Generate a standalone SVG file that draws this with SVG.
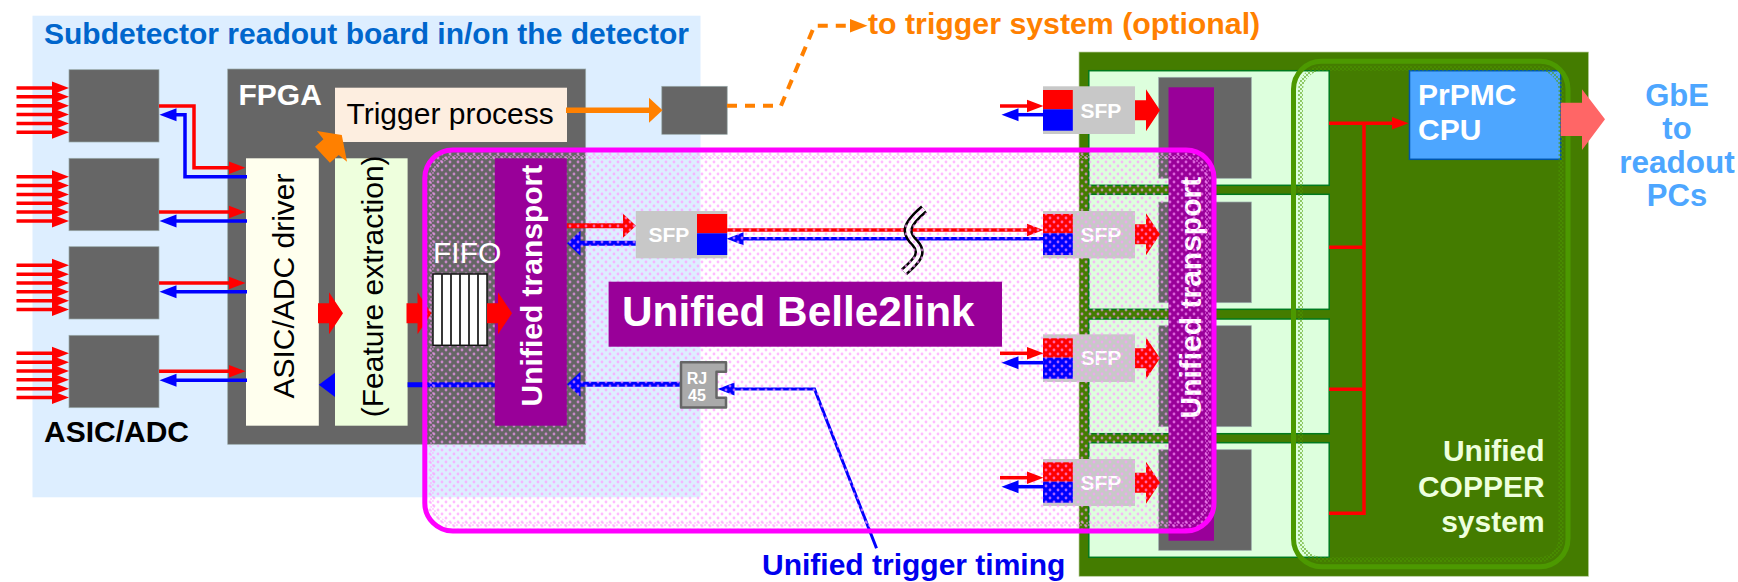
<svg xmlns="http://www.w3.org/2000/svg" xmlns:xlink="http://www.w3.org/1999/xlink" width="1738" height="582" viewBox="0 0 1738 582">
<style>
text{font-family:"Liberation Sans",Arial,sans-serif;font-size:30px}
.b{font-weight:bold}
.w{fill:#fff}
.m{text-anchor:middle}
.grey{fill:#666;stroke:#9aa;stroke-width:.7}
.sfp{fill:#c8c8c8}
.sfpt{font-weight:bold;font-size:21px;fill:#fff}
.card{fill:#ddffdd;stroke:#007a1e;stroke-width:1.5}
.purple{fill:#990099}
.r{stroke:#f00;fill:none}
.bl{stroke:#00f;fill:none}
.o{stroke:#ff8000;fill:none}
.s3{stroke-width:3.5}
.s5{stroke-width:5}
.fr{fill:#f00}
.fb{fill:#00f}
</style>
<defs>
<marker id="hr" markerUnits="userSpaceOnUse" markerWidth="18" markerHeight="16" refX="0.5" refY="8" orient="auto"><path d="M0 1.5L17 8L0 14.5Z" fill="#f00"/></marker>
<marker id="hb" markerUnits="userSpaceOnUse" markerWidth="18" markerHeight="16" refX="0.5" refY="8" orient="auto"><path d="M0 1.5L17 8L0 14.5Z" fill="#00f"/></marker>
<marker id="hrl" markerUnits="userSpaceOnUse" markerWidth="15" markerHeight="28" refX="0.5" refY="14" orient="auto"><path d="M0 1.500L13.500 14L0 26.500Z" fill="#f00"/></marker>
<marker id="hbl" markerUnits="userSpaceOnUse" markerWidth="15" markerHeight="28" refX="0.5" refY="14" orient="auto"><path d="M0 1.500L13.500 14L0 26.500Z" fill="#00f"/></marker>
<marker id="ho" markerUnits="userSpaceOnUse" markerWidth="15" markerHeight="28" refX="0.5" refY="14" orient="auto"><path d="M0 1.500L13.500 14L0 26.500Z" fill="#ff8000"/></marker>
<marker id="hos" markerUnits="userSpaceOnUse" markerWidth="19" markerHeight="16" refX="0.5" refY="8" orient="auto"><path d="M0 1L18 8L0 15Z" fill="#ff8000"/></marker>
<pattern id="dots" width="8" height="8" patternUnits="userSpaceOnUse"><circle cx="2" cy="2" r="1.400" fill="#ff99ff" fill-opacity=".65"/><circle cx="6" cy="6" r="1.400" fill="#ff99ff" fill-opacity=".65"/></pattern>
<pattern id="dense" width="4" height="4" patternUnits="userSpaceOnUse"><circle cx="1" cy="1" r=".9" fill="#ff99ff" fill-opacity=".6"/><circle cx="3" cy="3" r=".9" fill="#ff99ff" fill-opacity=".6"/></pattern>
<pattern id="gdense" width="4" height="4" patternUnits="userSpaceOnUse"><circle cx="1" cy="1" r=".9" fill="#4c9900" fill-opacity=".8"/><circle cx="3" cy="3" r=".9" fill="#4c9900" fill-opacity=".8"/></pattern>
<g id="in6">
<path class="r s3" d="M16.500 0H52.500" marker-end="url(#hr)"/>
<path class="r s3" d="M16.500 8.850H52.500" marker-end="url(#hr)"/>
<path class="r s3" d="M16.500 17.700H52.500" marker-end="url(#hr)"/>
<path class="r s3" d="M16.500 26.550H52.500" marker-end="url(#hr)"/>
<path class="r s3" d="M16.500 35.400H52.500" marker-end="url(#hr)"/>
<path class="r s3" d="M16.500 44.250H52.500" marker-end="url(#hr)"/>
</g>
<polygon id="bigr" points="0,-10 11,-10 11,-21 25,0 11,21 11,10 0,10"/>
</defs>

<g id="readout-board">
<rect x="32.500" y="15.700" width="668" height="481.600" fill="#ddeeff"/>
<text class="b" x="44" y="43.500" fill="#0066cc">Subdetector readout board in/on the detector</text>
</g>
<g id="asic-1"><rect class="grey" x="69" y="69.700" width="90" height="72.300"/></g>
<g id="asic-2"><rect class="grey" x="69" y="158.300" width="90" height="72.400"/></g>
<g id="asic-3"><rect class="grey" x="69" y="246.700" width="90" height="72.300"/></g>
<g id="asic-4"><rect class="grey" x="69" y="335.300" width="90" height="72.400"/>
<text class="b" x="44" y="442.300">ASIC/ADC</text></g>
<g id="fpga"><rect class="grey" x="227.700" y="69" width="358" height="375.300"/>
<text class="b w" x="238.500" y="105">FPGA</text></g>
<g id="trigger-process"><rect x="335" y="87.700" width="232" height="54.300" fill="#fdeee0"/>
<text x="346.500" y="124">Trigger process</text></g>
<g id="asic-driver"><rect x="246" y="158.300" width="72.800" height="267.400" fill="#ffffee"/>
<text class="m" transform="translate(293.500,286) rotate(-90)">ASIC/ADC driver</text></g>
<g id="feature-extraction"><rect x="335" y="158.300" width="72.600" height="267.400" fill="#eeffdd"/>
<text class="m" transform="translate(382.500,286.300) rotate(-90)">(Feature extraction)</text></g>
<g id="output-chip"><rect class="grey" x="661.800" y="86.300" width="65.400" height="48"/></g>

<g id="copper">
<rect x="1079" y="52" width="509.600" height="524.300" fill="#447c00" stroke="#bcd0a0" stroke-width=".7"/>
<text class="b" style="text-anchor:end" x="1544.600" y="461" fill="#eeffdd">Unified</text>
<text class="b" style="text-anchor:end" x="1544.600" y="497.300" fill="#eeffdd">COPPER</text>
<text class="b" style="text-anchor:end" x="1544.600" y="532.300" fill="#eeffdd">system</text>
</g>
<g id="card-1"><rect class="card" x="1088.800" y="70.700" width="240.400" height="114.600"/><rect class="grey" x="1158.700" y="77.300" width="92.600" height="101"/></g>
<g id="card-2"><rect class="card" x="1088.800" y="194.300" width="240.400" height="115"/><rect class="grey" x="1158.700" y="202" width="92.600" height="100.700"/></g>
<g id="card-3"><rect class="card" x="1088.800" y="319" width="240.400" height="114.700"/><rect class="grey" x="1158.700" y="325.700" width="92.600" height="101"/></g>
<g id="card-4"><rect class="card" x="1088.800" y="442.700" width="240.400" height="114.600"/><rect class="grey" x="1158.700" y="449.700" width="92.600" height="100.600"/></g>
<g id="copper-transport"><rect class="purple" x="1168.500" y="87.300" width="45.500" height="453.400"/>
<text class="b w m" transform="translate(1201,297.700) rotate(-90)">Unified transport</text></g>
<g id="cpu"><rect x="1409.500" y="70.700" width="151.200" height="88.600" fill="#4da6ff" stroke="#0055aa" stroke-width="1.500"/>
<text class="b w" x="1418" y="105">PrPMC</text><text class="b w" x="1418" y="140">CPU</text></g>
<g id="copper-outline">
<rect x="1300.500" y="68.300" width="260.500" height="491.400" rx="22" fill="none" stroke="url(#gdense)" stroke-width="5"/>
<rect x="1293.500" y="61.300" width="274.500" height="505.400" rx="28" fill="none" stroke="#4c9900" stroke-width="5"/>
</g>

<g id="sfp-r1"><rect class="sfp" x="1043" y="86.300" width="92" height="47.700"/><rect class="fr" x="1043" y="90" width="29.800" height="19.300"/><rect class="fb" x="1043" y="109.300" width="29.800" height="21.400"/><text class="sfpt" x="1080.500" y="118">SFP</text></g>
<g id="sfp-r2"><rect class="sfp" x="1043" y="211" width="92" height="47.300"/><rect class="fr" x="1043" y="214" width="29.800" height="19.300"/><rect class="fb" x="1043" y="233.300" width="29.800" height="21.700"/><text class="sfpt" x="1080.500" y="241.700">SFP</text></g>
<g id="sfp-r3"><rect class="sfp" x="1043" y="334.300" width="92" height="47.700"/><rect class="fr" x="1043" y="338.300" width="29.800" height="19.400"/><rect class="fb" x="1043" y="357.700" width="29.800" height="21"/><text class="sfpt" x="1080.500" y="365.300">SFP</text></g>
<g id="sfp-r4"><rect class="sfp" x="1043" y="459" width="92" height="47"/><rect class="fr" x="1043" y="462.300" width="29.800" height="19.400"/><rect class="fb" x="1043" y="481.700" width="29.800" height="21"/><text class="sfpt" x="1080.500" y="490">SFP</text></g>

<g id="connectors">
<use xlink:href="#in6" href="#in6" y="88"/>
<use xlink:href="#in6" href="#in6" y="176.700"/>
<use xlink:href="#in6" href="#in6" y="265.300"/>
<use xlink:href="#in6" href="#in6" y="353.300"/>
<path class="r s3" d="M159 106H194V167.700H229" marker-end="url(#hr)"/>
<path class="bl s3" d="M247 176.700H185V114.700H176" marker-end="url(#hb)"/>
<path class="r s3" d="M159 212H229" marker-end="url(#hr)"/>
<path class="bl s3" d="M247 221H176" marker-end="url(#hb)"/>
<path class="r s3" d="M159 283H229" marker-end="url(#hr)"/>
<path class="bl s3" d="M247 291.700H176" marker-end="url(#hb)"/>
<path class="r s3" d="M159 371.300H229" marker-end="url(#hr)"/>
<path class="bl s3" d="M247 380.300H176" marker-end="url(#hb)"/>
<use xlink:href="#bigr" href="#bigr" x="318" y="313.300" fill="#f00"/>
<use xlink:href="#bigr" href="#bigr" x="406.500" y="313.300" fill="#f00"/>
<path class="bl s5" d="M495 384.700H407.600"/>
<polygon class="fb" points="335,372.700 318.800,384.700 335,397"/>
<path class="o" stroke-width="5.500" d="M566 110.300H649.500" marker-end="url(#ho)"/>
<polygon fill="#ff8000" points="316.900,131 341.800,135 347,161.700 338.700,155 329.900,162.700 315,146.700 323.400,139.300"/>
<path class="o" stroke-width="4" stroke-dasharray="10 8" d="M727 105.700H781L814.500 25.700H850" marker-end="url(#hos)"/>
<path class="r s5" d="M566.800 225.700H623" marker-end="url(#hrl)"/>
<path class="bl s5" d="M635.800 243.300H580" marker-end="url(#hbl)"/>
<path class="r s3" d="M727 230H1027" marker-end="url(#hr)"/>
<path class="bl s3" d="M1043 238.700H743" marker-end="url(#hb)"/>
<path d="M924 209C904 226 905 233 915 243C925 254 915 262 904 272" fill="none" stroke="#000" stroke-width="9"/>
<path d="M924 209C904 226 905 233 915 243C925 254 915 262 904 272" fill="none" stroke="#fff" stroke-width="4"/>
<path class="r s3" d="M1000 106H1027" marker-end="url(#hr)"/>
<path class="bl s3" d="M1043 114.700H1018" marker-end="url(#hb)"/>
<use xlink:href="#bigr" href="#bigr" x="1135" y="110.300" fill="#f00"/>
<use xlink:href="#bigr" href="#bigr" x="1135" y="234.300" fill="#f00"/>
<use xlink:href="#bigr" href="#bigr" x="1135" y="358.300" fill="#f00"/>
<use xlink:href="#bigr" href="#bigr" x="1135" y="482.700" fill="#f00"/>
<path class="r s3" d="M1329 123.300H1392" marker-end="url(#hr)"/>
<path class="r s3" d="M1364 123.300V513.300M1329 247.300H1364M1329 389.300H1364M1329 513.300H1365.800"/>
<polygon fill="#ff6666" points="1560.700,102.700 1582,102.700 1582,89.300 1605,119.300 1582,150 1582,136 1560.700,136"/>
<path class="bl" stroke-width="3" d="M876.500 548.300L814.500 389H734" marker-end="url(#hb)"/>
<path class="bl s5" d="M679.800 384.300H580" marker-end="url(#hbl)"/>
</g>

<g id="belle2link">
<rect x="424.800" y="150" width="789.200" height="381" rx="28" fill="url(#dots)" stroke="#ff00ff" stroke-width="5"/>
<rect x="431.800" y="157" width="775.200" height="367" rx="22" fill="none" stroke="url(#dense)" stroke-width="4"/>
</g>
<g id="fpga-transport"><rect class="purple" x="494.800" y="158.300" width="72" height="267.400"/>
<text class="b w m" transform="translate(541.500,285.600) rotate(-90)">Unified transport</text></g>
<g id="fifo">
<text x="433" y="263" class="w">FIFO</text>
<rect x="433" y="274" width="54" height="71.300" fill="#fff" stroke="#111" stroke-width="1.500"/>
<path d="M442 274V345.300M451 274V345.300M460 274V345.300M469 274V345.300M478 274V345.300" stroke="#222" stroke-width="1.800" fill="none"/>
</g>
<g id="sfp-left"><rect class="sfp" x="635.800" y="211" width="91.400" height="47.300"/><rect class="fr" x="697" y="214" width="30.200" height="19.300"/><rect class="fb" x="697" y="233.300" width="30.200" height="21.700"/><text class="sfpt" x="648.500" y="241.700">SFP</text></g>
<g id="rj45"><path d="M681 362.200H726V371.700H716.500V397.700H726V407.500H681Z" fill="#aaa" stroke="#666" stroke-width="2.500" stroke-linejoin="round"/>
<text class="b w m" x="697" y="384" style="font-size:16px">RJ</text><text class="b w m" x="697" y="400.500" style="font-size:16px">45</text></g>
<g id="unified-belle2link"><rect class="purple" x="608.600" y="281.700" width="393.400" height="65"/>
<text class="b w" x="622" y="326" style="font-size:42.300px">Unified Belle2link</text></g>
<g id="connectors-top">
<use xlink:href="#bigr" href="#bigr" x="487" y="313.300" fill="#f00"/>
<path class="r s3" d="M1000 353.300H1027" marker-end="url(#hr)"/>
<path class="bl s3" d="M1043 362.700H1018" marker-end="url(#hb)"/>
<path class="r s3" d="M1000 477.700H1027" marker-end="url(#hr)"/>
<path class="bl s3" d="M1043 486.700H1018" marker-end="url(#hb)"/>
</g>
<g id="labels">
<text class="b" x="868" y="34.300" fill="#ff8000" style="font-size:30.300px">to trigger system (optional)</text>
<text class="b" x="762" y="575" fill="#0000ee">Unified trigger timing</text>
<text class="b m" x="1677" y="105.700" fill="#4da6ff" style="font-size:31px">GbE</text><text class="b m" x="1677" y="139.300" fill="#4da6ff" style="font-size:31px">to</text><text class="b m" x="1677" y="172.700" fill="#4da6ff" style="font-size:31.500px">readout</text><text class="b m" x="1677" y="206" fill="#4da6ff" style="font-size:31px">PCs</text>
</g>
</svg>
